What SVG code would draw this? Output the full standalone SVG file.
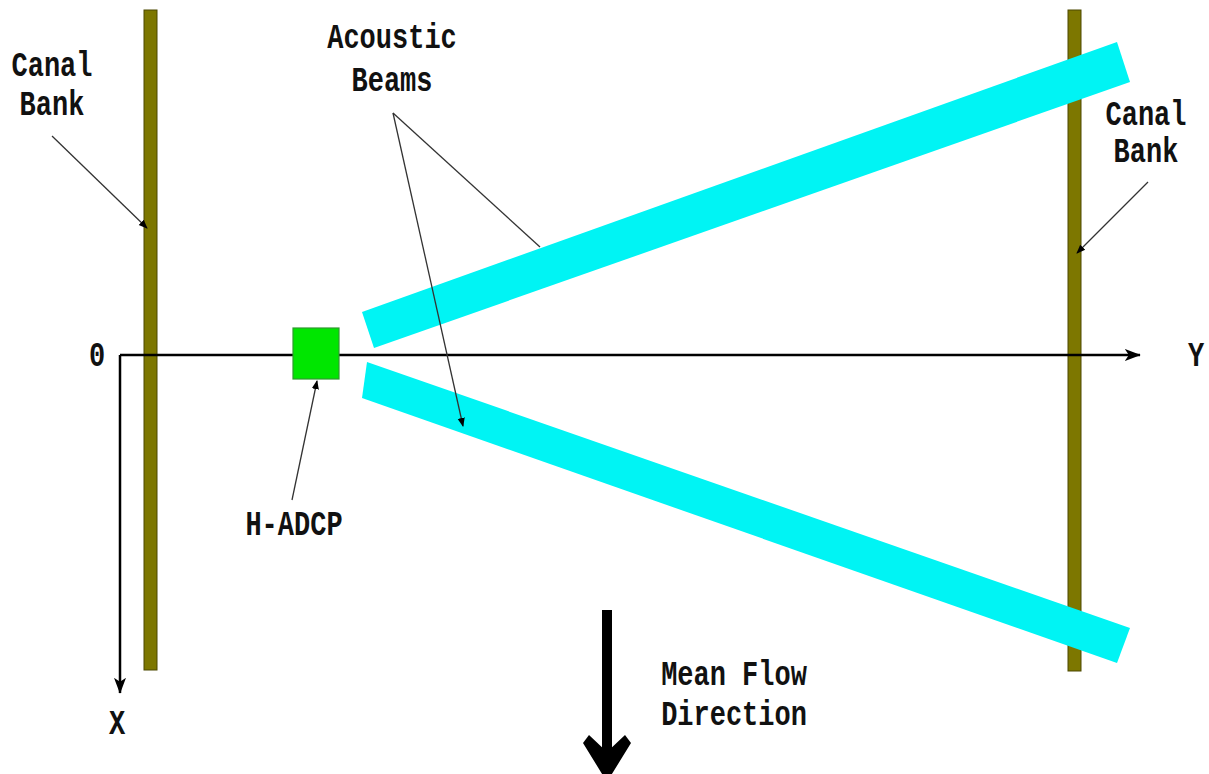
<svg xmlns="http://www.w3.org/2000/svg" width="1209" height="774" viewBox="0 0 1209 774">
<style>
.bank{fill:#7d7700;stroke:#4d4800;stroke-width:1}
.beam{fill:#00f4f4}
.lbl{font-family:"Liberation Mono",monospace;font-weight:bold;font-size:27px;fill:#111;text-anchor:middle}
.lead{stroke:#333;stroke-width:1.3;fill:none}
.axis{stroke:#000;stroke-width:2.5;fill:none}
</style>
<defs>
<marker id="sm" viewBox="0 0 10 10" refX="9" refY="5" markerWidth="9" markerHeight="9" markerUnits="userSpaceOnUse" orient="auto">
<path d="M0,1 L10,5 L0,9 Z" fill="#000"/>
</marker>
<marker id="ax" viewBox="0 0 10 10" refX="9.5" refY="5" markerWidth="16" markerHeight="12" markerUnits="userSpaceOnUse" orient="auto" preserveAspectRatio="none">
<path d="M0,0 L10,5 L0,10 L2.5,5 Z" fill="#000"/>
</marker>
</defs>
<rect width="1209" height="774" fill="#fff"/>

<g id="left-bank"><rect class="bank" x="144" y="10" width="13" height="660"/></g>
<g id="right-bank"><rect class="bank" x="1068" y="10" width="13" height="661"/></g>

<g id="axes">
<path class="axis" d="M120,355 L1140,355" marker-end="url(#ax)"/>
<path class="axis" d="M120,355 L120,693" marker-end="url(#ax)"/>
</g>

<g id="upper-beam"><polygon class="beam" points="362,312 1117,42 1130,82 374,348"/></g>
<g id="lower-beam"><polygon class="beam" points="367,362 1130,628 1117,663 362,398"/></g>

<g id="h-adcp"><rect x="293" y="328" width="46" height="51" fill="#00e600" stroke="#2f9a2f" stroke-width="1.2"/></g>

<g id="connectors">
<path class="lead" d="M52,136 L147,228" marker-end="url(#sm)"/>
<path class="lead" d="M1148,182 L1077,253" marker-end="url(#sm)"/>
<path class="lead" d="M393,113 L540,247"/>
<path class="lead" d="M393,113 L463,426" marker-end="url(#sm)"/>
<path class="lead" d="M292,500 L317,381" marker-end="url(#sm)"/>
</g>

<g id="flow-arrow">
<rect x="602" y="610" width="10" height="150" fill="#000"/>
<path d="M607,782 L583,743 L589,735 L607,752 L625,735 L631,743 Z" fill="#000"/>
</g>

<g id="labels">
<text class="lbl" transform="translate(52,76) scale(1,1.3)">Canal</text>
<text class="lbl" transform="translate(52,115) scale(1,1.3)">Bank</text>
<text class="lbl" transform="translate(392,48) scale(1,1.3)">Acoustic</text>
<text class="lbl" transform="translate(392,91) scale(1,1.3)">Beams</text>
<text class="lbl" transform="translate(1146,125) scale(1,1.3)">Canal</text>
<text class="lbl" transform="translate(1146,162) scale(1,1.3)">Bank</text>
<text class="lbl" transform="translate(294,535) scale(1,1.3)">H-ADCP</text>
<text class="lbl" transform="translate(734,685) scale(1,1.3)">Mean Flow</text>
<text class="lbl" transform="translate(734,725) scale(1,1.3)">Direction</text>
<text class="lbl" transform="translate(97,366) scale(1,1.3)">0</text>
<text class="lbl" transform="translate(1196,366) scale(1,1.3)">Y</text>
<text class="lbl" transform="translate(117,734) scale(1,1.3)">X</text>
</g>
</svg>
